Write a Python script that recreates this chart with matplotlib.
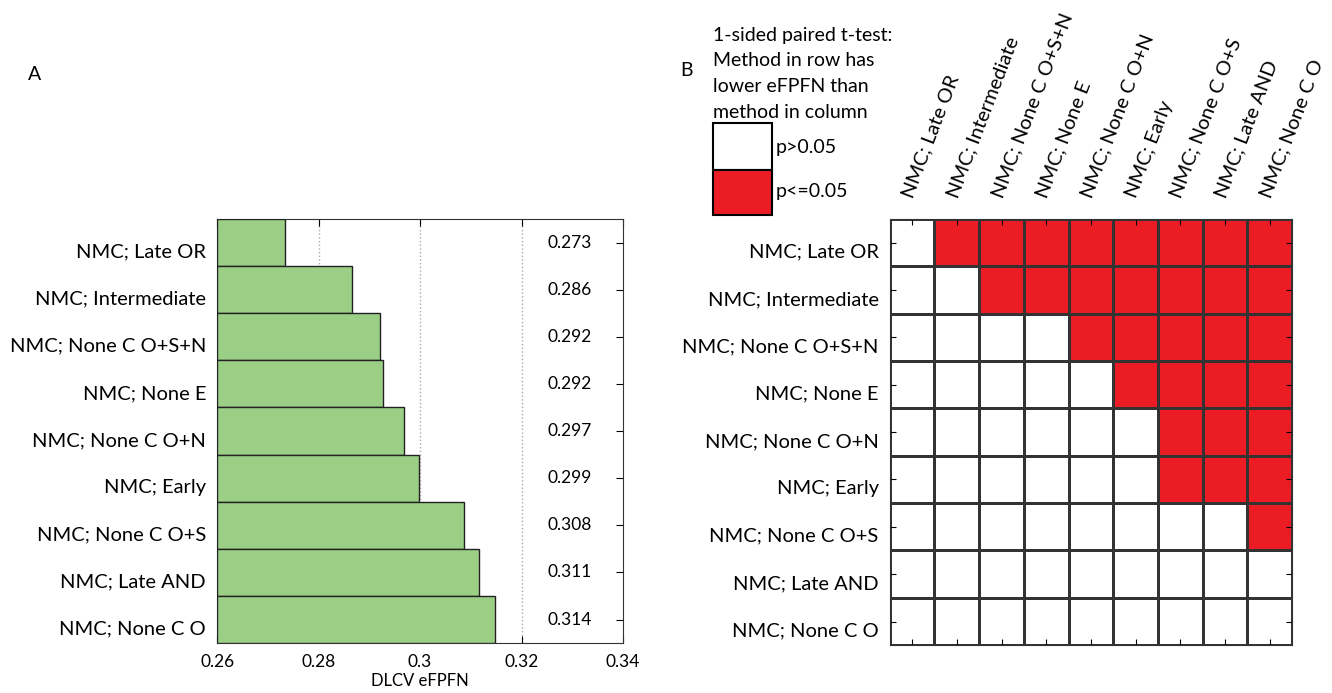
import matplotlib
matplotlib.use("Agg")
import matplotlib.pyplot as plt
import matplotlib.transforms as mtransforms
from matplotlib.colors import ListedColormap
import numpy as np

methods = ["NMC; Late OR", "NMC; Intermediate", "NMC; None C O+S+N", "NMC; None E",
           "NMC; None C O+N", "NMC; Early", "NMC; None C O+S", "NMC; Late AND", "NMC; None C O"]
values = [0.2734, 0.2865, 0.2922, 0.2927, 0.2969, 0.2997, 0.3087, 0.3116, 0.3147]
value_labels = ["0.273", "0.286", "0.292", "0.292", "0.297", "0.299", "0.308", "0.311", "0.314"]
significant = [
    [0, 1, 1, 1, 1, 1, 1, 1, 1],
    [0, 0, 1, 1, 1, 1, 1, 1, 1],
    [0, 0, 0, 0, 1, 1, 1, 1, 1],
    [0, 0, 0, 0, 0, 1, 1, 1, 1],
    [0, 0, 0, 0, 0, 0, 1, 1, 1],
    [0, 0, 0, 0, 0, 0, 1, 1, 1],
    [0, 0, 0, 0, 0, 0, 0, 0, 1],
    [0, 0, 0, 0, 0, 0, 0, 0, 0],
    [0, 0, 0, 0, 0, 0, 0, 0, 0],
]
xticks = [0.26, 0.28, 0.30, 0.32, 0.34]
xtick_labels = ["0.26", "0.28", "0.3", "0.32", "0.34"]

plt.rcParams['font.family'] = ['Lato', 'DejaVu Sans']
GREEN = "#9bcf86"
RED = "#ec1c24"
LABEL_FS = 14.5

fig = plt.figure(figsize=(13.32, 6.93), dpi=100)
down = mtransforms.ScaledTranslation(0, -8 / 100, fig.dpi_scale_trans)

# Panel A
axA = fig.add_axes([0.163, 0.072, 0.3047, 0.612])
n = len(methods)
y = np.arange(n)
axA.barh(y, [v - 0.26 for v in values], left=0.26, height=1.0, color=GREEN,
         edgecolor="#222222", linewidth=1.0, zorder=3)
for yi, lab in zip(y, value_labels):
    axA.text(0.3295, yi, lab, ha="center", va="center", fontsize=12.5, zorder=4)
axA.set_xlim(0.26, 0.34)
axA.set_ylim(n - 0.5, -0.5)
axA.set_xticks(xticks)
axA.set_xticklabels(xtick_labels, fontsize=12.5)
axA.set_yticks(y)
axA.set_yticklabels(methods, fontsize=LABEL_FS)
axA.tick_params(axis="both", direction="in", length=5, right=True, top=True, pad=8)
for lab in axA.get_yticklabels():
    lab.set_transform(lab.get_transform() + down)
for xv in [0.28, 0.30, 0.32]:
    axA.axvline(xv, color="#aaaaaa", linestyle=":", linewidth=1.0, zorder=1)
axA.set_xlabel("DLCV eFPFN", fontsize=12, labelpad=2)
for s in axA.spines.values():
    s.set_color("#333333")

# Panel B
axB = fig.add_axes([0.668, 0.069, 0.302, 0.615])
mat = np.array(significant)
cmap = ListedColormap(["white", RED])
axB.pcolormesh(np.arange(n + 1) - 0.5, np.arange(n + 1) - 0.5, mat, cmap=cmap,
               vmin=0, vmax=1, edgecolors="#333333", linewidth=1.0)
axB.set_xlim(-0.5, n - 0.5)
axB.set_ylim(n - 0.5, -0.5)
axB.set_yticks(y)
axB.set_yticklabels(methods, fontsize=LABEL_FS)
axB.set_xticks(y)
axB.set_xticklabels([])
axB.tick_params(axis="both", direction="in", length=4, right=True, top=True, pad=8)
for lab in axB.get_yticklabels():
    lab.set_transform(lab.get_transform() + down)
for s in axB.spines.values():
    s.set_color("#333333")
for i, m in enumerate(methods):
    axB.text(i - 0.1, -0.97, m, rotation=69, rotation_mode="anchor", ha="left",
             va="center", fontsize=LABEL_FS, transform=axB.transData, clip_on=False)

# Legend
leg_lines = ["1-sided paired t-test:", "Method in row has", "lower eFPFN than", "method in column"]
for k, line in enumerate(leg_lines):
    fig.text(713 / 1332, 1 - (35 + 26 * k) / 693, line, fontsize=14, ha="left", va="center")
lx0, lw = 713 / 1332, 59 / 1332
fig.add_artist(plt.Rectangle((lx0, 1 - 170 / 693), lw, 47 / 693, transform=fig.transFigure,
                             facecolor="white", edgecolor="black", linewidth=1.5))
fig.add_artist(plt.Rectangle((lx0, 1 - 215 / 693), lw, 45 / 693, transform=fig.transFigure,
                             facecolor=RED, edgecolor="black", linewidth=1.5))
fig.text(776 / 1332, 1 - 148 / 693, "p>0.05", fontsize=14, ha="left", va="center")
fig.text(776 / 1332, 1 - 192 / 693, "p<=0.05", fontsize=14, ha="left", va="center")

fig.text(35 / 1332, 1 - 75 / 693, "A", fontsize=14, ha="center", va="center")
fig.text(686 / 1332, 1 - 70 / 693, "B", fontsize=14, ha="center", va="center")

fig.savefig("out.png", dpi=100)
